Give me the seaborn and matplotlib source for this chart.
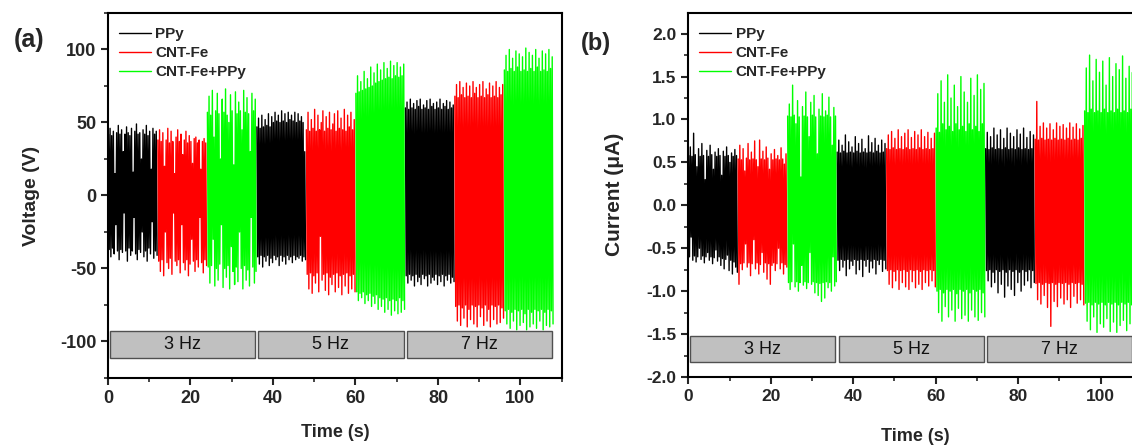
import numpy as np
import pandas as pd
import matplotlib
matplotlib.use("Agg")
import matplotlib.pyplot as plt
from matplotlib.patches import Rectangle
from matplotlib.lines import Line2D
from matplotlib.ticker import MultipleLocator
import seaborn as sns

# ---------------- data ----------------
SAMPLES = ["PPy", "CNT-Fe", "CNT-Fe+PPy"]
FREQS = ["3 Hz", "5 Hz", "7 Hz"]
SEG_LEN = 12  # seconds per sample segment

# Panel (a): voltage peaks (V); one list per frequency (3, 5, 7 Hz)
V_PPY_HI = [
    [42, 46, 41, 44, 15, 43, 48, 42, 45, 30, 42, 47, 43, 41, 46, 16, 44, 49, 42, 43, 25, 45, 42, 48, 41, 44, 18, 46, 42, 44],
    [47, 53, 46, 55, 47, 52, 48, 56, 47, 54, 50, 57, 51, 55, 50, 58, 51, 56, 50, 57, 52, 55, 51, 57, 50, 56, 51, 54, 50, 30],
    [60, 64, 59, 66, 60, 63, 59, 65, 61, 66, 59, 62, 60, 65, 59, 66, 61, 63, 59, 64, 60, 66, 59, 63, 61, 65, 59, 64, 60, 62],
]
V_PPY_LO = [
    [-37, -42, -36, -40, -20, -38, -44, -37, -39, -12, -38, -45, -36, -41, -38, -15, -40, -44, -37, -39, -25, -42, -38, -45, -36, -40, -18, -43, -38, -41],
    [-42, -47, -41, -49, -42, -45, -41, -48, -43, -46, -41, -44, -42, -48, -41, -45, -42, -47, -41, -44, -42, -46, -41, -44, -42, -43, -41, -45, -42, -44],
    [-55, -60, -54, -58, -55, -62, -54, -59, -56, -61, -54, -57, -55, -62, -54, -60, -56, -58, -54, -61, -55, -59, -54, -62, -55, -58, -54, -60, -56, -59],
]
V_CNT_HI = [
    [38, 45, 37, 43, 20, 38, 46, 36, 44, 37, 15, 40, 45, 37, 42, 28, 38, 44, 36, 41, 37, 22, 39, 40, 36, 38, 18, 37, 39, 36],
    [45, 57, 44, 52, 46, 59, 44, 55, 45, 50, 58, 44, 54, 46, 57, 45, 49, 56, 44, 58, 46, 53, 45, 59, 44, 55, 47, 57, 45, 52],
    [68, 76, 67, 78, 69, 74, 67, 77, 68, 75, 67, 78, 70, 74, 67, 76, 68, 78, 67, 73, 69, 77, 67, 75, 68, 78, 67, 74, 69, 76],
]
V_CNT_LO = [
    [-45, -52, -44, -55, -25, -46, -50, -43, -54, -12, -45, -48, -44, -53, -20, -46, -51, -44, -55, -47, -30, -45, -52, -44, -49, -15, -46, -53, -44, -48],
    [-54, -64, -53, -67, -55, -60, -53, -66, -28, -58, -54, -65, -53, -68, -56, -61, -54, -66, -53, -63, -55, -68, -54, -62, -53, -67, -55, -64, -54, -66],
    [-76, -86, -75, -89, -77, -84, -75, -90, -78, -85, -75, -88, -76, -90, -75, -83, -77, -89, -75, -86, -78, -90, -75, -85, -76, -88, -75, -87, -77, -84],
]
V_MIX_HI = [
    [57, 68, 55, 72, 40, 58, 70, 56, 25, 66, 57, 73, 55, 50, 69, 58, 21, 71, 56, 64, 58, 45, 72, 57, 67, 56, 30, 70, 58, 66],
    [70, 82, 71, 78, 72, 85, 73, 80, 74, 88, 75, 84, 77, 90, 78, 86, 79, 91, 80, 87, 81, 92, 80, 89, 82, 91, 81, 88, 82, 90],
    [86, 96, 85, 100, 87, 94, 85, 99, 88, 97, 85, 95, 86, 101, 85, 98, 87, 96, 85, 100, 88, 94, 85, 99, 86, 97, 85, 100, 87, 95],
]
V_MIX_LO = [
    [-49, -60, -48, -30, -62, -50, -58, -47, -20, -63, -50, -56, -48, -64, -35, -52, -61, -49, -59, -25, -50, -64, -48, -58, -51, -62, -15, -49, -60, -52],
    [-66, -72, -67, -70, -66, -74, -68, -72, -67, -76, -69, -74, -68, -78, -70, -76, -71, -80, -70, -78, -72, -82, -71, -79, -72, -81, -70, -80, -72, -78],
    [-79, -88, -78, -91, -80, -86, -78, -92, -79, -89, -78, -87, -81, -92, -78, -90, -80, -88, -78, -91, -79, -86, -78, -92, -80, -89, -78, -90, -79, -88],
]

# Panel (b): current peaks (uA)
I_PPY_HI = [
    [0.58, 0.68, 0.57, 0.84, 0.59, 0.45, 0.66, 0.57, 0.72, 0.58, 0.30, 0.64, 0.57, 0.70, 0.59, 0.42, 0.62, 0.57, 0.66, 0.58, 0.35, 0.63, 0.57, 0.68, 0.58, 0.50, 0.61, 0.57, 0.65, 0.58],
    [0.62, 0.76, 0.61, 0.70, 0.63, 0.82, 0.61, 0.74, 0.62, 0.68, 0.61, 0.80, 0.63, 0.72, 0.61, 0.77, 0.62, 0.66, 0.61, 0.81, 0.62, 0.73, 0.61, 0.78, 0.63, 0.70, 0.61, 0.76, 0.62, 0.72],
    [0.66, 0.85, 0.65, 0.80, 0.67, 0.90, 0.65, 0.82, 0.66, 0.88, 0.65, 0.78, 0.67, 0.90, 0.65, 0.84, 0.66, 0.80, 0.65, 0.88, 0.67, 0.83, 0.65, 0.90, 0.66, 0.79, 0.65, 0.86, 0.66, 0.82],
]
I_PPY_LO = [
    [-0.60, -0.37, -0.64, -0.59, -0.66, -0.60, -0.50, -0.63, -0.59, -0.67, -0.60, -0.55, -0.64, -0.60, -0.68, -0.61, -0.52, -0.65, -0.60, -0.70, -0.62, -0.74, -0.63, -0.58, -0.76, -0.64, -0.80, -0.66, -0.72, -0.78],
    [-0.64, -0.76, -0.63, -0.72, -0.64, -0.82, -0.63, -0.74, -0.65, -0.70, -0.63, -0.80, -0.64, -0.75, -0.63, -0.83, -0.64, -0.71, -0.63, -0.78, -0.65, -0.73, -0.63, -0.80, -0.64, -0.69, -0.63, -0.77, -0.64, -0.74],
    [-0.76, -0.88, -0.75, -0.95, -0.78, -0.90, -0.75, -1.02, -0.77, -0.92, -0.75, -1.07, -0.78, -0.94, -0.75, -0.98, -0.77, -1.05, -0.75, -0.90, -0.78, -1.00, -0.75, -0.93, -0.77, -0.88, -0.75, -0.96, -0.76, -0.90],
]
I_CNT_HI = [
    [0.54, 0.70, 0.53, 0.66, 0.40, 0.55, 0.72, 0.53, 0.62, 0.54, 0.75, 0.53, 0.45, 0.76, 0.54, 0.63, 0.53, 0.68, 0.55, 0.42, 0.60, 0.53, 0.65, 0.54, 0.58, 0.53, 0.67, 0.54, 0.48, 0.60],
    [0.66, 0.82, 0.65, 0.86, 0.67, 0.78, 0.65, 0.88, 0.66, 0.80, 0.65, 0.84, 0.67, 0.88, 0.65, 0.79, 0.66, 0.86, 0.65, 0.82, 0.67, 0.88, 0.65, 0.80, 0.66, 0.85, 0.65, 0.78, 0.66, 0.84],
    [0.77, 1.21, 0.76, 0.92, 0.78, 0.96, 0.76, 0.90, 0.77, 0.95, 0.76, 0.88, 0.78, 0.96, 0.76, 0.92, 0.77, 0.94, 0.76, 0.90, 0.78, 0.96, 0.76, 0.91, 0.77, 0.95, 0.76, 0.89, 0.78, 0.93],
]
I_CNT_LO = [
    [-0.92, -0.68, -0.75, -0.67, -0.45, -0.72, -0.67, -0.82, -0.68, -0.40, -0.74, -0.67, -0.80, -0.69, -0.55, -0.78, -0.67, -0.86, -0.68, -0.92, -0.70, -0.67, -0.76, -0.68, -0.50, -0.74, -0.67, -0.80, -0.69, -0.72],
    [-0.76, -0.92, -0.75, -0.96, -0.77, -0.88, -0.75, -0.98, -0.76, -0.90, -0.75, -0.95, -0.77, -0.98, -0.75, -0.89, -0.76, -0.96, -0.75, -0.92, -0.77, -0.98, -0.75, -0.90, -0.76, -0.94, -0.75, -0.88, -0.76, -0.95],
    [-0.91, -1.10, -0.90, -1.15, -0.92, -1.05, -0.90, -1.19, -0.91, -1.41, -0.90, -1.12, -0.92, -1.18, -0.90, -1.08, -0.91, -1.15, -0.90, -1.10, -0.92, -1.19, -0.90, -1.06, -0.91, -1.14, -0.90, -1.10, -0.92, -1.16],
]
I_MIX_HI = [
    [1.04, 1.18, 1.03, 1.40, 1.05, 0.95, 1.22, 1.03, 0.33, 1.15, 1.04, 1.32, 1.03, 0.80, 1.20, 1.05, 1.28, 1.03, 0.60, 1.12, 1.04, 1.30, 1.03, 1.10, 1.05, 1.26, 1.03, 0.70, 1.14, 1.04],
    [0.90, 1.30, 0.85, 1.45, 0.95, 1.20, 0.88, 1.52, 0.92, 1.25, 0.86, 1.40, 0.95, 1.15, 0.88, 1.50, 0.92, 1.32, 0.86, 1.20, 0.95, 1.48, 0.88, 1.28, 0.92, 1.52, 0.86, 1.35, 0.95, 1.42],
    [1.10, 1.60, 1.08, 1.75, 1.12, 1.45, 1.08, 1.70, 1.10, 1.55, 1.08, 1.68, 1.12, 1.40, 1.08, 1.72, 1.10, 1.50, 1.08, 1.65, 1.12, 1.58, 1.08, 1.74, 1.10, 1.48, 1.08, 1.62, 1.12, 1.55],
]
I_MIX_LO = [
    [-0.90, -0.98, -0.89, -0.45, -0.95, -0.89, -1.00, -0.90, -0.70, -0.93, -0.89, -0.97, -0.90, -0.55, -0.92, -0.89, -1.02, -0.90, -1.05, -0.91, -1.12, -0.90, -1.08, -0.89, -0.96, -0.90, -1.00, -0.60, -0.94, -0.89],
    [-1.00, -1.25, -0.98, -1.35, -1.02, -1.18, -0.98, -1.30, -1.00, -1.22, -0.98, -1.35, -1.03, -1.20, -0.98, -1.32, -1.00, -1.28, -0.98, -1.35, -1.02, -1.22, -0.98, -1.30, -1.00, -1.34, -0.98, -1.25, -1.02, -1.30],
    [-1.14, -1.35, -1.13, -1.45, -1.16, -1.30, -1.13, -1.48, -1.15, -1.38, -1.13, -1.42, -1.16, -1.32, -1.13, -1.47, -1.15, -1.36, -1.13, -1.48, -1.16, -1.40, -1.13, -1.34, -1.15, -1.46, -1.13, -1.38, -1.16, -1.42],
]

COLORS = {"PPy": "#000000", "CNT-Fe": "#ff0000", "CNT-Fe+PPy": "#00ff00"}


def build_frame(series):
    rows = []
    for s_idx, (name, (hi_lists, lo_lists)) in enumerate(series.items()):
        for f_idx, (hi, lo) in enumerate(zip(hi_lists, lo_lists)):
            start = (f_idx * len(SAMPLES) + s_idx) * SEG_LEN
            n = min(len(hi), len(lo))
            dt = SEG_LEN / n
            seg = f"{name}_{f_idx}"
            for k in range(n):
                rows.append((start + (k + 0.25) * dt, hi[k], name, seg))
                rows.append((start + (k + 0.75) * dt, lo[k], name, seg))
    return pd.DataFrame(rows, columns=["t", "v", "sample", "seg"])


df_a = build_frame({"PPy": (V_PPY_HI, V_PPY_LO), "CNT-Fe": (V_CNT_HI, V_CNT_LO),
                    "CNT-Fe+PPy": (V_MIX_HI, V_MIX_LO)})
df_b = build_frame({"PPy": (I_PPY_HI, I_PPY_LO), "CNT-Fe": (I_CNT_HI, I_CNT_LO),
                    "CNT-Fe+PPy": (I_MIX_HI, I_MIX_LO)})

# ---------------- style ----------------
sns.set_style("ticks")
plt.rcParams["font.family"] = ["Liberation Sans", "DejaVu Sans"]
plt.rcParams["axes.linewidth"] = 1.5
plt.rcParams["axes.unicode_minus"] = False

fig = plt.figure(figsize=(11.32, 4.45), dpi=100)
ax_a = fig.add_axes([0.0954, 0.1506, 0.4008, 0.8202])
ax_b = fig.add_axes([0.6080, 0.1528, 0.4008, 0.8187])


def draw(ax, df, ylim, ymaj, ymin_loc, box_y, ylabel, tick_fs, ylabel_fs, ylab_x, xlab_y,
         letter, letter_xy, letter_fs):
    sns.lineplot(data=df, x="t", y="v", hue="sample", units="seg", estimator=None,
                 sort=False, palette=COLORS, hue_order=SAMPLES, linewidth=1.0,
                 legend=False, ax=ax)
    ax.set_xlim(0, 110)
    ax.set_ylim(*ylim)
    ax.xaxis.set_major_locator(MultipleLocator(20))
    ax.xaxis.set_minor_locator(MultipleLocator(10))
    ax.yaxis.set_major_locator(MultipleLocator(ymaj))
    ax.yaxis.set_minor_locator(MultipleLocator(ymin_loc))
    ax.tick_params(which="major", direction="out", length=5, width=1.5,
                   labelsize=tick_fs, top=False, right=False)
    ax.tick_params(which="minor", direction="out", length=3, width=1.2,
                   top=False, right=False)
    for lab in ax.get_xticklabels() + ax.get_yticklabels():
        lab.set_fontweight("bold")
    for sp in ax.spines.values():
        sp.set_visible(True)
        sp.set_linewidth(1.5)
        sp.set_color("black")
    ax.set_xlabel("Time (s)", fontsize=13, fontweight="bold")
    ax.xaxis.set_label_coords(0.5, xlab_y)
    ax.set_ylabel(ylabel, fontsize=ylabel_fs, fontweight="bold")
    ax.yaxis.set_label_coords(ylab_x, 0.5)

    # frequency boxes
    group = SEG_LEN * len(SAMPLES)
    for i, lab in enumerate(FREQS):
        x0 = i * group + 0.45
        x1 = (i + 1) * group - 0.35
        ax.add_patch(Rectangle((x0, box_y[0]), x1 - x0, box_y[1] - box_y[0],
                               facecolor="#c0c0c0", edgecolor="#505050", lw=1.0, zorder=3))
        ax.text((x0 + x1) / 2, (box_y[0] + box_y[1]) / 2, lab, ha="center", va="center",
                fontsize=13, color="#111111", zorder=4)

    handles = [Line2D([], [], color=COLORS[s], lw=1.0) for s in SAMPLES]
    ax.legend(handles, SAMPLES, loc="upper left", bbox_to_anchor=(0.0, 0.99),
              frameon=False, handlelength=2.1, handletextpad=0.3,
              labelspacing=0.33, borderaxespad=0.3,
              prop={"weight": "bold", "size": 11})
    fig.text(letter_xy[0], letter_xy[1], letter, fontsize=letter_fs, fontweight="bold",
             ha="center", va="center")


draw(ax_a, df_a, (-125, 125), 50, 25, (-111, -93), "Voltage (V)", 13, 14,
     -0.15, -0.125, "(a)", (0.0256, 0.909), 18)
draw(ax_b, df_b, (-2.0, 2.244), 0.5, 0.25, (-1.83, -1.52), "Current (\u03bcA)", 12.5, 15,
     -0.142, -0.14, "(b)", (0.5265, 0.903), 17)

fig.savefig("out.png", dpi=100)
